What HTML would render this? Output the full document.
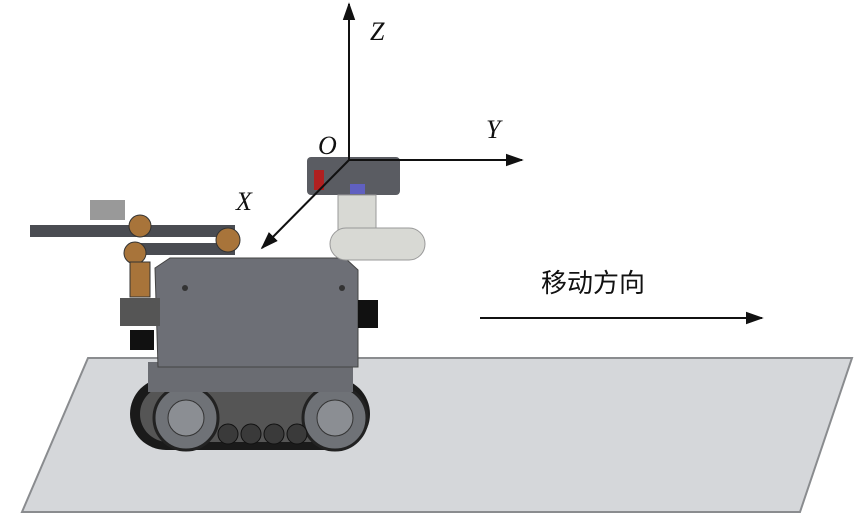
<!DOCTYPE html>
<html><head><meta charset="utf-8"><style>
body{margin:0;background:#fff;width:859px;height:525px;overflow:hidden}
svg{display:block}
text{font-family:"Liberation Serif",serif;font-style:italic}
</style></head><body>
<svg width="859" height="525" viewBox="0 0 859 525">
<defs><marker id="a" viewBox="0 0 10 10" refX="9" refY="5" markerWidth="9" markerHeight="9" orient="auto"><path d="M0,1.5L10,5L0,8.5z" fill="#111"/></marker></defs>
<polygon points="88,358 852,358 800,512 22,512" fill="#d5d7da" stroke="#8a8c8f" stroke-width="2"/>
<!-- tracks -->
<rect x="130" y="378" width="240" height="72" rx="36" fill="#1a1a1a"/>
<rect x="140" y="386" width="222" height="56" rx="28" fill="#555"/>
<circle cx="186" cy="418" r="32" fill="#6f7277" stroke="#222" stroke-width="3"/>
<circle cx="186" cy="418" r="18" fill="#8b8e93" stroke="#333"/>
<circle cx="335" cy="418" r="32" fill="#6f7277" stroke="#222" stroke-width="3"/>
<circle cx="335" cy="418" r="18" fill="#8b8e93" stroke="#333"/>
<g fill="#3a3a3a" stroke="#111"><circle cx="228" cy="434" r="10"/><circle cx="251" cy="434" r="10"/><circle cx="274" cy="434" r="10"/><circle cx="297" cy="434" r="10"/></g>
<!-- chassis -->
<rect x="148" y="362" width="205" height="30" fill="#6a6c72"/>
<polygon points="155,268 170,258 345,258 358,270 358,367 158,367" fill="#6d6f76" stroke="#444"/>
<rect x="120" y="298" width="40" height="28" fill="#555"/>
<rect x="130" y="330" width="24" height="20" fill="#111"/>
<rect x="358" y="300" width="20" height="28" fill="#111"/>
<circle cx="185" cy="288" r="3" fill="#333"/><circle cx="342" cy="288" r="3" fill="#333"/>
<!-- arm -->
<rect x="30" y="225" width="205" height="12" fill="#4a4c52"/>
<rect x="140" y="243" width="95" height="12" fill="#4a4c52"/>
<rect x="90" y="200" width="35" height="20" fill="#999"/>
<g fill="#a8743a" stroke="#333"><circle cx="140" cy="226" r="11"/><circle cx="228" cy="240" r="12"/><circle cx="135" cy="253" r="11"/><rect x="130" y="262" width="20" height="35"/></g>
<!-- head -->
<rect x="307" y="157" width="93" height="38" rx="4" fill="#5a5c62"/>
<rect x="314" y="170" width="10" height="20" fill="#b02020"/>
<rect x="350" y="184" width="15" height="10" fill="#6060c0"/>
<rect x="338" y="195" width="38" height="45" fill="#d8d9d4" stroke="#999"/>
<rect x="330" y="228" width="95" height="32" rx="16" fill="#d8d9d4" stroke="#999"/>
<!-- axes -->
<g stroke="#111" stroke-width="2" fill="none">
<line x1="349" y1="160" x2="349" y2="4" marker-end="url(#a)"/>
<line x1="349" y1="160" x2="522" y2="160" marker-end="url(#a)"/>
<line x1="349" y1="160" x2="262" y2="248" marker-end="url(#a)"/>
<line x1="480" y1="318" x2="762" y2="318" marker-end="url(#a)"/>
</g>
<g font-size="26" fill="#111">
<text x="370" y="40">Z</text><text x="486" y="138">Y</text><text x="318" y="154">O</text><text x="236" y="210">X</text>
</g>
<text x="541" y="292" font-size="26" style="font-style:normal;font-family:'Liberation Sans','Noto Sans CJK SC',sans-serif" fill="#111">移动方向</text>
</svg>
</body></html>
